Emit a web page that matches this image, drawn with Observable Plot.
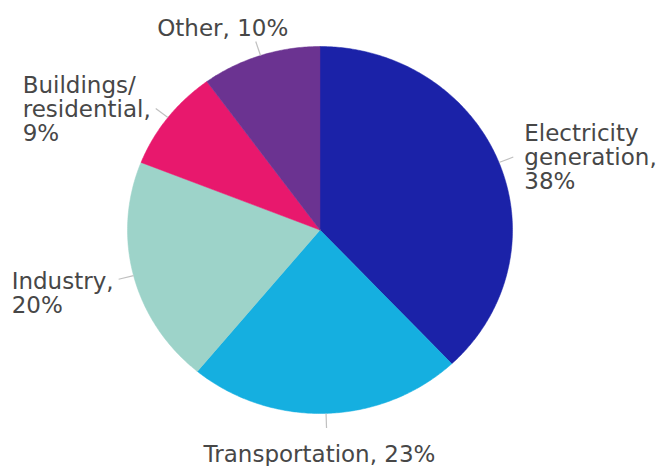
<!DOCTYPE html>
<html>
<head>
<meta charset="utf-8">
<script src="https://cdn.jsdelivr.net/npm/d3@7"></script>
<script src="https://cdn.jsdelivr.net/npm/@observablehq/plot@0.6"></script>
<style>
  html, body { margin: 0; padding: 0; background: #fff; }
  #chart svg { display: block; }
</style>
</head>
<body>
<div id="chart"></div>
<script>
// Data
const categories = ["Electricity generation", "Transportation", "Industry", "Buildings/residential", "Other"];
const shares = [38, 23, 20, 9, 10];
const labels = ["Electricity\ngeneration,\n38%", "Transportation, 23%", "Industry,\n20%", "Buildings/\nresidential,\n9%", "Other, 10%"];
const colors = ["#1b22a8", "#15afe0", "#9dd3c9", "#e8186d", "#6b3391"];

// Label layout (offsets from leader end, pixels)
const labelAnchor = ["start", "middle", "start", "start", "middle"];
const labelDx = [11, -7, -107, -133, -33];
const labelDy = [0, 26, 14, 1, -13];

const rows = categories.map((c, i) => ({cat: c, value: shares[i], label: labels[i], i}));
const arcs = d3.pie().sort(null).value(d => d.value)(rows);

// polygon points for each slice (unit circle, y up)
const pts = [];
for (const a of arcs) {
  const n = Math.max(4, Math.ceil((a.endAngle - a.startAngle) / 0.01));
  pts.push({cat: a.data.cat, x: 0, y: 0});
  for (let k = 0; k <= n; k++) {
    const t = a.startAngle + (a.endAngle - a.startAngle) * k / n;
    pts.push({cat: a.data.cat, x: Math.sin(t), y: Math.cos(t)});
  }
  pts.push({cat: a.data.cat, x: 0, y: 0});
}

const leaderR0 = 1.0, leaderR1 = 1.08;
const leaders = arcs.map(a => {
  const m = (a.startAngle + a.endAngle) / 2;
  return {
    cat: a.data.cat, label: a.data.label, i: a.data.i,
    x1: leaderR0 * Math.sin(m), y1: leaderR0 * Math.cos(m),
    x2: leaderR1 * Math.sin(m), y2: leaderR1 * Math.cos(m)
  };
});

const font = "'DejaVu Sans', Verdana, sans-serif";

const plot = Plot.plot({
  width: 658,
  height: 466,
  margin: 0,
  style: {fontFamily: font, background: "#fff"},
  x: {domain: [-1, 1], range: [127, 512], axis: null},
  y: {domain: [-1, 1], range: [413, 46], axis: null},
  color: {type: "ordinal", domain: categories, range: colors},
  marks: [
    Plot.line(pts, {x: "x", y: "y", z: "cat", fill: "cat", stroke: "cat", strokeWidth: 0.5, curve: "linear"}),
    Plot.link(leaders, {x1: "x1", y1: "y1", x2: "x2", y2: "y2", stroke: "#c0c0c0", strokeWidth: 1.2}),
    ...leaders.map(d => Plot.text([d], {
      x: "x2", y: "y2", text: "label",
      textAnchor: labelAnchor[d.i],
      lineAnchor: "middle",
      dx: labelDx[d.i], dy: labelDy[d.i],
      fontSize: 23, lineHeight: 1.04,
      fill: "#474747"
    }))
  ]
});

document.getElementById("chart").appendChild(plot);
</script>
</body>
</html>
